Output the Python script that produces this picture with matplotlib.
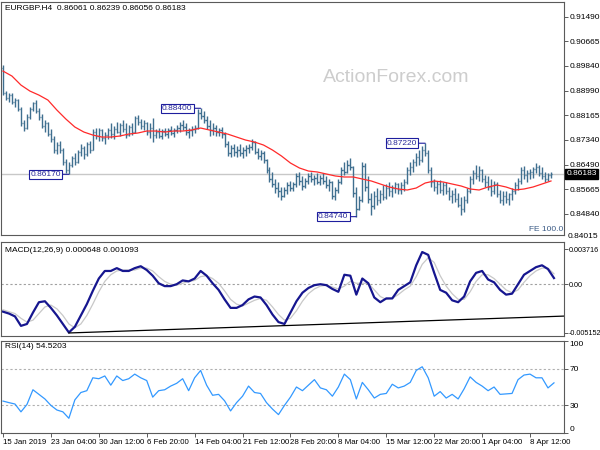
import numpy as np
import matplotlib.pyplot as plt
from matplotlib.transforms import blended_transform_factory

plt.rcParams['font.family'] = ['Liberation Sans', 'DejaVu Sans']

# EURGBP H4 - one bar for every 2 H4 bars
highs = [.8986, .8900, .8892, .8890, .8875, .8870, .8845, .8800, .8820, .8845,
         .8862, .8868, .8840, .8820, .8800, .8795, .8770, .8745, .8725, .8730,
         .8705, .8668, .8660, .8680, .8690, .8700, .8718, .8712, .8725, .8730,
         .8770, .8775, .8772, .8770, .8760, .8775, .8790, .8780, .8795, .8790,
         .8800, .8790, .8785, .8790, .8815, .8818, .8805, .8800, .8795, .8790,
         .8808, .8770, .8775, .8770, .8775, .8772, .8780, .8775, .8785, .8795,
         .8800, .8790, .8775, .8780, .8785, .8838, .8840, .8830, .8815, .8800,
         .8790, .8785, .8775, .8778, .8760, .8730, .8715, .8720, .8712, .8718,
         .8710, .8715, .8720, .8735, .8728, .8705, .8700, .8695, .8670, .8640,
         .8625, .8600, .8590, .8575, .8575, .8590, .8595, .8592, .8620, .8625,
         .8610, .8605, .8620, .8625, .8615, .8620, .8615, .8620, .8610, .8600,
         .8595, .8575, .8600, .8640, .8660, .8665, .8672, .8645, .8575, .8545,
         .8660, .8655, .8610, .8555, .8560, .8570, .8565, .8580, .8585, .8590,
         .8580, .8592, .8588, .8590, .8600, .8640, .8660, .8670, .8690, .8700,
         .8712, .8722, .8700, .8640, .8600, .8595, .8598, .8590, .8592, .8575,
         .8565, .8570, .8555, .8540, .8545, .8570, .8610, .8630, .8650, .8645,
         .8635, .8615, .8610, .8600, .8595, .8592, .8565, .8560, .8560, .8555,
         .8570, .8590, .8605, .8640, .8645, .8630, .8635, .8640, .8655, .8650,
         .8640, .8625, .8620, .8624]
lows = [.8885, .8868, .8860, .8855, .8845, .8830, .8780, .8762, .8770, .8805,
        .8830, .8825, .8800, .8772, .8760, .8745, .8725, .8690, .8685, .8690,
        .8650, .8620, .8617, .8640, .8650, .8655, .8680, .8670, .8680, .8690,
        .8698, .8735, .8730, .8728, .8720, .8735, .8740, .8735, .8755, .8745,
        .8760, .8740, .8745, .8750, .8755, .8785, .8770, .8765, .8750, .8740,
        .8726, .8740, .8740, .8735, .8745, .8740, .8750, .8742, .8755, .8760,
        .8765, .8750, .8740, .8745, .8755, .8770, .8805, .8790, .8770, .8745,
        .8750, .8748, .8745, .8740, .8710, .8680, .8675, .8680, .8675, .8680,
        .8672, .8680, .8690, .8700, .8685, .8670, .8665, .8655, .8620, .8590,
        .8575, .8555, .8540, .8530, .8540, .8550, .8560, .8560, .8575, .8580,
        .8565, .8570, .8585, .8590, .8580, .8585, .8580, .8585, .8570, .8560,
        .8535, .8530, .8555, .8585, .8615, .8620, .8630, .8540, .8474, .8495,
        .8525, .8560, .8520, .8478, .8500, .8515, .8520, .8530, .8535, .8545,
        .8540, .8555, .8550, .8550, .8560, .8585, .8615, .8625, .8645, .8650,
        .8660, .8680, .8620, .8575, .8560, .8550, .8555, .8548, .8550, .8530,
        .8520, .8525, .8505, .8480, .8490, .8520, .8555, .8585, .8600, .8595,
        .8590, .8575, .8565, .8545, .8550, .8540, .8520, .8515, .8520, .8515,
        .8530, .8550, .8565, .8585, .8600, .8590, .8600, .8605, .8620, .8610,
        .8600, .8590, .8595, .8605]
closes = [.8892, .8875, .8885, .8862, .8868, .8838, .8790, .8775, .8812, .8838,
          .8858, .8832, .8810, .8780, .8790, .8752, .8735, .8700, .8715, .8698,
          .8660, .8630, .8650, .8672, .8660, .8692, .8705, .8685, .8718, .8700,
          .8760, .8745, .8765, .8738, .8750, .8768, .8752, .8770, .8760, .8782,
          .8770, .8750, .8778, .8760, .8808, .8795, .8780, .8790, .8760, .8775,
          .8750, .8760, .8748, .8762, .8752, .8765, .8758, .8768, .8775, .8785,
          .8778, .8760, .8765, .8770, .8775, .8825, .8815, .8800, .8780, .8765,
          .8775, .8760, .8768, .8752, .8720, .8690, .8705, .8692, .8700, .8688,
          .8698, .8705, .8710, .8725, .8692, .8680, .8690, .8665, .8630, .8600,
          .8585, .8570, .8560, .8545, .8565, .8580, .8572, .8585, .8610, .8595,
          .8578, .8595, .8610, .8600, .8605, .8592, .8605, .8595, .8580, .8590,
          .8545, .8565, .8590, .8630, .8625, .8650, .8640, .8555, .8500, .8530,
          .8645, .8575, .8535, .8510, .8545, .8530, .8550, .8540, .8570, .8560,
          .8572, .8585, .8565, .8580, .8592, .8630, .8640, .8660, .8675, .8665,
          .8700, .8690, .8630, .8590, .8575, .8585, .8565, .8580, .8560, .8545,
          .8550, .8535, .8515, .8500, .8530, .8560, .8600, .8620, .8610, .8630,
          .8600, .8590, .8575, .8560, .8585, .8550, .8530, .8545, .8535, .8550,
          .8560, .8580, .8595, .8630, .8615, .8620, .8625, .8635, .8640, .8620,
          .8610, .8600, .8615, .86183]
first_open = .8975

# red moving average, one reading per 6 H4 bars
ma = [.89657, .89488, .89184, .88981, .88846, .88678, .88340, .88037, .87767, .87598,
      .87496, .87429, .87429, .87463, .87530, .87564, .87632, .87632, .87598, .87632,
      .87632, .87665, .87733, .87665, .87598, .87530, .87429, .87328, .87260, .87159,
      .86990, .86788, .86551, .86383, .86281, .86248, .86180, .86113, .86079, .86079,
      .86011, .85944, .85842, .85741, .85674, .85640, .85707, .85876, .85944, .85910,
      .85842, .85775, .85674, .85640, .85741, .85808, .85741, .85640, .85674, .85741,
      .85842, .85944]

# MACD(12,26,9) and signal, x1e-4, one reading per 4 H4 bars
macd_e4 = [-29, -31, -34, -44, -42, -30, -19, -18, -25, -33,
           -42, -51, -45, -33, -21, -7, 6, 14, 14, 17,
           14, 14, 17, 19, 15, 9, 1, -2, -2, 0,
           4, 3, 6, 14, 9, 1, -6, -16, -25, -25,
           -22, -16, -13, -14, -22, -32, -40, -42, -30, -18,
           -9, -4, -1, 0, -1, -5, -8, 10, 9, -11,
           6, 1, -14, -19, -15, -15, -6, -2, 2, 20,
           34, 31, 12, -6, -9, -17, -19, -13, 3, 12,
           14, 5, 2, -6, -11, -10, 0, 10, 14, 18,
           20, 16, 6.5]
signal_e4 = [-27, -29, -31, -36, -40, -38, -31, -24, -22, -26,
             -33, -42, -46, -42, -33, -21, -8, 3, 10, 14,
             15, 15, 15, 17, 17, 14, 8, 3, 0, -1,
             1, 3, 4, 8, 9, 6, 1, -7, -16, -21,
             -23, -20, -17, -15, -17, -24, -32, -38, -36, -28,
             -18, -10, -5, -2, -1, -3, -5, -2, 3, 1,
             1, 1, -6, -13, -16, -15, -11, -6, -2, 8,
             21, 28, 23, 9, -2, -10, -16, -16, -8, 3,
             10, 10, 6, 0, -6, -9, -6, 2, 9, 14,
             17, 17, 11]
trend_bars = [44, 376]
trend_e4 = [-51.5, -33.6]

# RSI(14), one reading per 4 H4 bars
rsi = [34.7, 33, 31.5, 23, 31, 47, 42, 37, 30, 25,
       23, 16, 36, 44, 46, 60, 59, 62, 52, 62,
       57, 59, 64, 60, 57, 39, 46, 47, 51, 54,
       59, 46, 60, 68, 52, 41, 42, 35, 24, 33,
       40, 51, 44, 43, 33, 26, 20, 30, 39, 50,
       46, 52, 58, 49, 47, 40, 50, 64, 58, 37,
       55, 47, 38, 42, 43, 53, 49, 51, 55, 68,
       72, 60, 40, 45, 38, 42, 37, 48, 61, 55,
       51, 46, 50, 42, 42.5, 43, 58, 63, 64, 60,
       60, 49, 54.5]

date_labels = ['15 Jan 2019', '23 Jan 04:00', '30 Jan 12:00', '6 Feb 20:00',
               '14 Feb 04:00', '21 Feb 12:00', '28 Feb 20:00', '8 Mar 04:00',
               '15 Mar 12:00', '22 Mar 20:00', '1 Apr 04:00', '8 Apr 12:00']
price_ticks = [0.91490, 0.90665, 0.89840, 0.88990, 0.88165,
               0.87340, 0.86490, 0.85665, 0.84840]
last_price = 0.86183
# swing labels: (H4 bar index, price)
swings = [(132, 0.88400), (44, 0.86170), (236, 0.84740), (282, 0.87220)]

bar_col = '#3f6f8f'
frame_col = '#5a5a5a'

fig = plt.figure(figsize=(6, 4.5), dpi=100)
ax1 = fig.add_axes([1 / 600, 1 - 235 / 450, 563 / 600, 233 / 450])
ax2 = fig.add_axes([1 / 600, 1 - 336 / 450, 563 / 600, 94 / 450], sharex=ax1)
ax3 = fig.add_axes([1 / 600, 1 - 433 / 450, 563 / 600, 92 / 450], sharex=ax1)

for ax in (ax1, ax2, ax3):
    for s in ax.spines.values():
        s.set_color(frame_col)
        s.set_linewidth(0.8)
    ax.yaxis.tick_right()
    ax.tick_params(axis='y', direction='out', length=3, width=0.7, colors=frame_col,
                   labelcolor='black', labelsize=6, pad=1)
    ax.tick_params(axis='x', bottom=False, labelbottom=False)

# price panel
xb = np.arange(len(closes)) * 2
opens = [first_open] + closes[:-1]
ax1.axhline(last_price, color='#c8c8c8', lw=1, zorder=0)
ax1.vlines(xb, lows, highs, color=bar_col, lw=1.0)
ax1.hlines(opens, xb - 0.8, xb, color=bar_col, lw=1.0)
ax1.hlines(closes, xb, xb + 0.8, color=bar_col, lw=1.0)
ax1.plot(np.arange(len(ma)) * 6, ma, color='#ff2a2a', lw=0.9)
ax1.set_ylim(0.8412, 0.9199)
ax1.set_yticks(price_ticks)
ax1.set_yticklabels([f'{v:.5f}' for v in price_ticks])

for bar, val in swings:
    ax1.annotate(f'{val:.5f}', xy=(bar, val), xytext=(-8, 0), textcoords='offset pixels',
                 ha='right', va='center', fontsize=6, color='#2a2a9a',
                 bbox=dict(boxstyle='square,pad=0.15', fc='white', ec='#1e1e9e', lw=0.8),
                 arrowprops=dict(arrowstyle='-', color='#1e1e9e', lw=0.8,
                                 shrinkA=0, shrinkB=0))

tr = blended_transform_factory(ax1.transAxes, ax1.transData)
ax1.text(1.004, last_price, f'{last_price:.5f}', transform=tr, ha='left', va='center',
         fontsize=6, color='white', clip_on=False,
         bbox=dict(boxstyle='square,pad=0.2', fc='black', ec='black'))
ax1.text(0.999, 0.008, 'FE 100.0', transform=ax1.transAxes, ha='right', va='bottom',
         fontsize=6, color='#3a5a85')
fig.text(568 / 600, 1 - 237 / 450, '0.84015', fontsize=6, va='center')
fig.text(5 / 600, 1 - 8 / 450, 'EURGBP.H4  0.86061 0.86239 0.86056 0.86183',
         fontsize=6, va='center')
fig.text(396 / 600, 1 - 78 / 450, 'ActionForex.com', fontsize=14, color='#cdcdcd',
         ha='center', va='center')

# MACD panel
macd = np.array(macd_e4) * 1e-4
signal = np.array(signal_e4) * 1e-4
xm = np.arange(len(macd)) * 4
ax2.axhline(0, color='#a0a0a0', lw=0.8, ls=(0, (2, 2)))
ax2.plot(np.arange(len(signal)) * 4, signal, color='#c8c8c8', lw=0.9)
ax2.plot(xm, macd, color='#16168f', lw=1.6)
ax2.plot(trend_bars, np.array(trend_e4) * 1e-4, color='black', lw=0.9)
ax2.set_ylim(-0.00547, 0.00446)
ax2.set_yticks([0.003716, 0, -0.005152])
ax2.set_yticklabels(['0.003716', '0.00', '-0.005152'])
ax2.tick_params(axis='y', labelsize=5.2, pad=0.5)
fig.text(5 / 600, 1 - 250 / 450, 'MACD(12,26,9) 0.000648 0.001093', fontsize=6, va='center')

# RSI panel
ax3.axhline(70, color='#b0b0b0', lw=0.8, ls=(0, (2, 2)))
ax3.axhline(30, color='#b0b0b0', lw=0.8, ls=(0, (2, 2)))
ax3.plot(np.arange(len(rsi)) * 4, rsi, color='#3399ff', lw=0.9)
ax3.set_ylim(0, 100)
ax3.set_yticks([100, 70, 30, 0])
ax3.set_yticklabels(['100', '70', '30', '0'])
lbls = ax3.get_yticklabels()
lbls[0].set_va('top')
lbls[3].set_va('bottom')
fig.text(5 / 600, 1 - 347 / 450, 'RSI(14) 54.5203', fontsize=6, va='center')

ax3.set_xlim(-1.33, 374.7)
ax3.set_xticks(np.arange(len(date_labels)) * 32)
ax3.set_xticklabels(date_labels)
ax3.tick_params(axis='x', bottom=True, labelbottom=True, direction='out', length=3,
                width=0.7, colors=frame_col, labelcolor='black', labelsize=5.7, pad=1.5)
for t in ax3.get_xticklabels():
    t.set_ha('left')

fig.savefig('out.png', dpi=100)
